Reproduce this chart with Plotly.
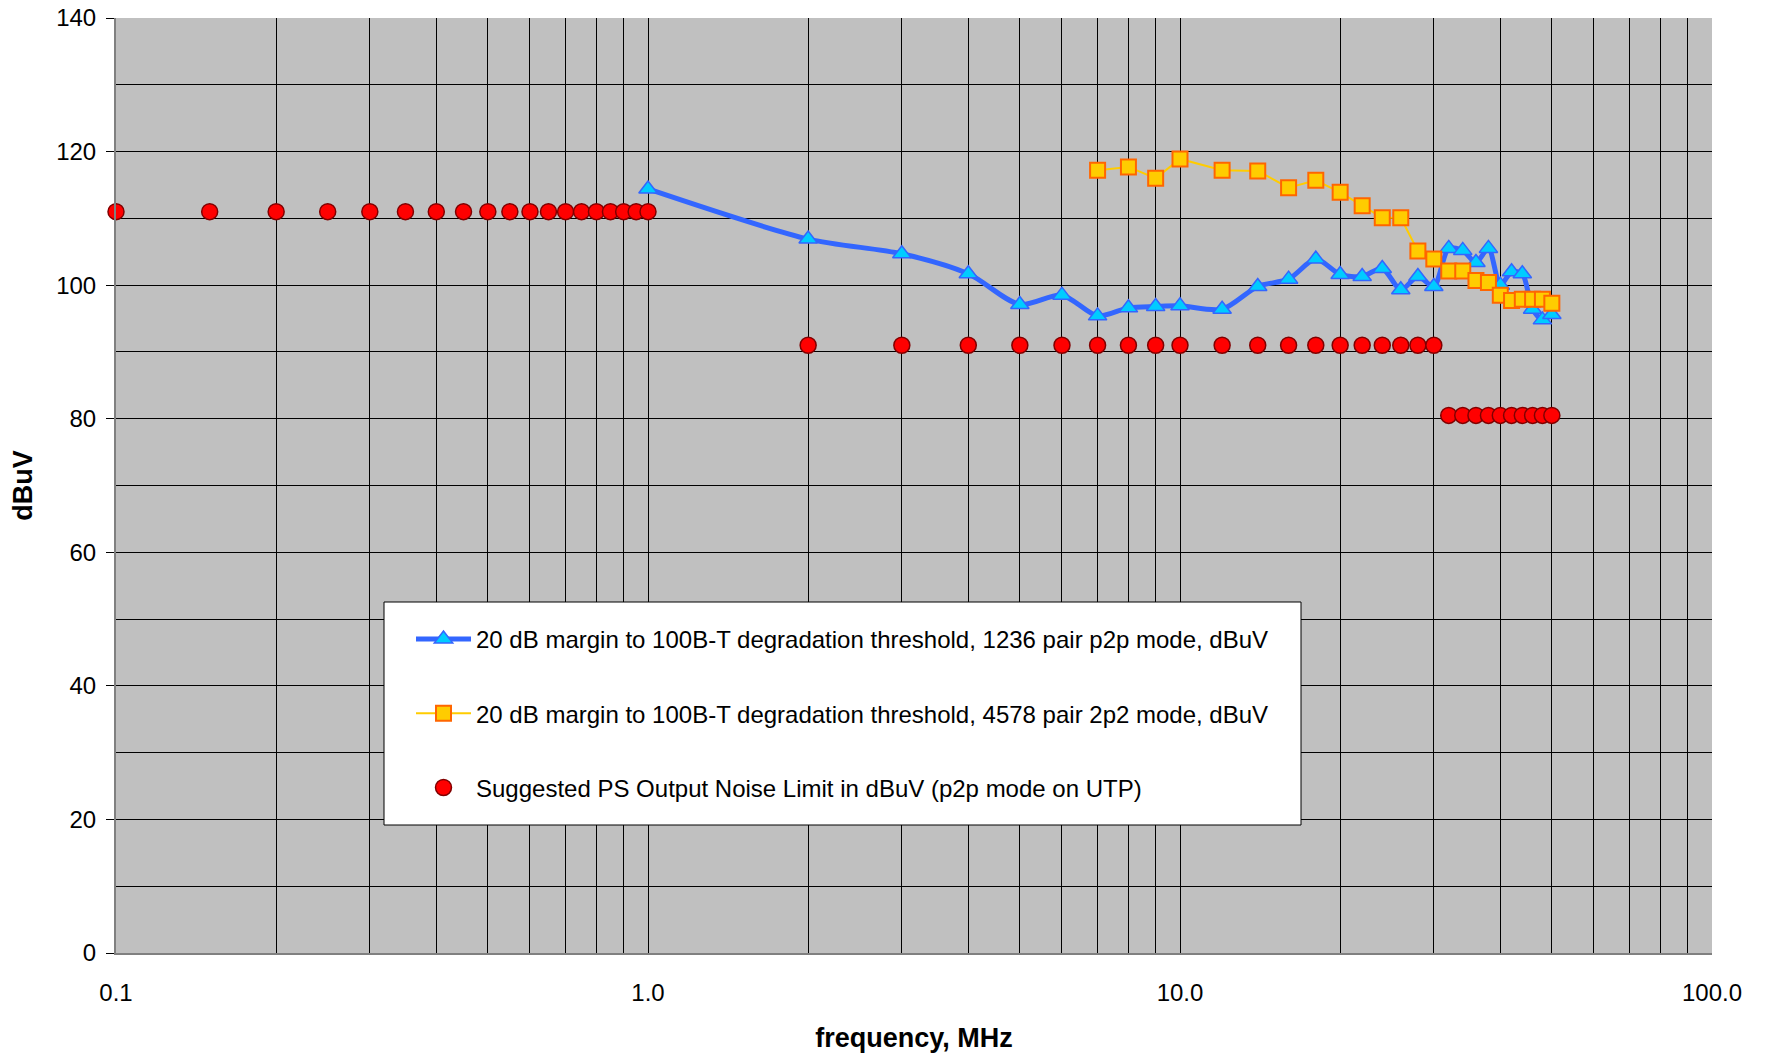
import plotly.graph_objects as go

# ---- data ----
blue_x = [1, 2, 3, 4, 5, 6, 7, 8, 9, 10, 12, 14, 16, 18, 20, 22, 24, 26, 28, 30,
          32, 34, 36, 38, 40, 42, 44, 46, 48, 50]
blue_y = [114.4, 106.9, 104.7, 101.7, 97.1, 98.5, 95.4, 96.6, 96.8, 96.9, 96.4, 99.8,
          100.9, 103.9, 101.6, 101.3, 102.5, 99.3, 101.3, 99.8,
          105.5, 105.2, 103.4, 105.5, 100.0, 102.0, 101.7, 96.4, 94.8, 95.6]

orange_x = [7, 8, 9, 10, 12, 14, 16, 18, 20, 22, 24, 26, 28, 30,
            32, 34, 36, 38, 40, 42, 44, 46, 48, 50]
orange_y = [117.2, 117.7, 116.0, 118.9, 117.2, 117.1, 114.6, 115.7, 113.9, 111.9, 110.1, 110.1,
            105.1, 103.9, 102.1, 102.1, 100.7, 100.4, 98.5, 97.7, 97.9, 97.9, 97.9, 97.3]

red_x = [0.1, 0.15, 0.2, 0.25, 0.3, 0.35, 0.4, 0.45, 0.5, 0.55, 0.6, 0.65, 0.7, 0.75,
         0.8, 0.85, 0.9, 0.95, 1.0,
         2, 3, 4, 5, 6, 7, 8, 9, 10, 12, 14, 16, 18, 20, 22, 24, 26, 28, 30,
         32, 34, 36, 38, 40, 42, 44, 46, 48, 50]
red_y = [111] * 19 + [91] * 19 + [80.5] * 10

names = [
    "20 dB margin to 100B-T degradation threshold, 1236 pair p2p mode, dBuV",
    "20 dB margin to 100B-T degradation threshold, 4578 pair 2p2 mode, dBuV",
    "Suggested PS Output Noise Limit in dBuV (p2p mode on UTP)",
]

x_major = [0.1, 1, 10, 100]
x_major_text = ["0.1", "1.0", "10.0", "100.0"]
x_minor = [m * d for d in (0.1, 1, 10) for m in range(2, 10)]

FONT = "Arial, 'Liberation Sans', sans-serif"

# plot area in page coords: x 116-1712, y 18-953 (body margin removed below)
W, H = 1765, 1053
PL, PT, PR, PB = 116, 18, 1712, 953
PW, PH = PR - PL, PB - PT

fig = go.Figure()
fig.add_trace(go.Scatter(
    x=blue_x, y=blue_y, name=names[0], mode="lines+markers", legendgroup="a",
    line=dict(color="#3366FF", width=5, shape="spline", smoothing=0.8),
    marker=dict(symbol="triangle-up", size=16, color="#00CCFF",
                line=dict(color="#3366FF", width=1.5)),
))
fig.add_trace(go.Scatter(
    x=orange_x, y=orange_y, name=names[1], mode="lines+markers", legendgroup="b",
    line=dict(color="#FFCC00", width=2),
    marker=dict(symbol="square", size=15, color="#FFCC00",
                line=dict(color="#FF6600", width=2)),
))
fig.add_trace(go.Scatter(
    x=red_x, y=red_y, name=names[2], mode="markers", legendgroup="c", cliponaxis=False,
    marker=dict(symbol="circle", size=16, color="#FF0000",
                line=dict(color="#800000", width=1.5)),
))

# legend box
fig.add_shape(type="rect", xref="paper", yref="paper",
              x0=(384 - PL) / PW, x1=(1301 - PL) / PW,
              y0=(PB - 825) / PH, y1=(PB - 602) / PH,
              fillcolor="white", line=dict(color="black", width=1), layer="above")

fig.update_layout(
    width=W, height=H,
    margin=dict(l=PL, r=W - PR, t=PT, b=H - PB, autoexpand=False),
    paper_bgcolor="white", plot_bgcolor="#C0C0C0",
    font=dict(family=FONT, size=24, color="black"),
    showlegend=True,
    legend=dict(x=(411 - PL) / PW, y=(PB - 617) / PH, xanchor="left", yanchor="top",
                bgcolor="rgba(0,0,0,0)", borderwidth=0, tracegroupgap=40, itemwidth=55,
                font=dict(size=24, family=FONT)),
    xaxis=dict(
        type="log", range=[-1, 2], automargin=False,
        tickvals=x_major, ticktext=x_major_text, ticks="",
        ticklabelstandoff=17, ticklabeloverflow="allow",
        showgrid=True, gridcolor="black", gridwidth=1,
        minor=dict(tickvals=x_minor, showgrid=True, gridcolor="black", gridwidth=1, ticks=""),
        showline=True, linecolor="#808080", linewidth=2, mirror=False,
        zeroline=False,
        title=dict(text="<b>frequency, MHz</b>", font=dict(size=27, family=FONT), standoff=23),
    ),
    yaxis=dict(
        range=[0, 140], dtick=20, tick0=0, automargin=False,
        ticks="outside", ticklen=8, tickcolor="black", ticklabelstandoff=5,
        ticklabeloverflow="allow",
        showgrid=True, gridcolor="black", gridwidth=1,
        minor=dict(dtick=10, showgrid=True, gridcolor="black", gridwidth=1),
        showline=True, linecolor="#808080", linewidth=2, mirror=False,
        zeroline=False,
        title=dict(text="<b>dBuV</b>", font=dict(size=27, family=FONT), standoff=16),
    ),
)

fig.write_html("out.html", config={"displayModeBar": False},
               post_script="document.body.style.margin='0';document.body.style.overflow='hidden';")
